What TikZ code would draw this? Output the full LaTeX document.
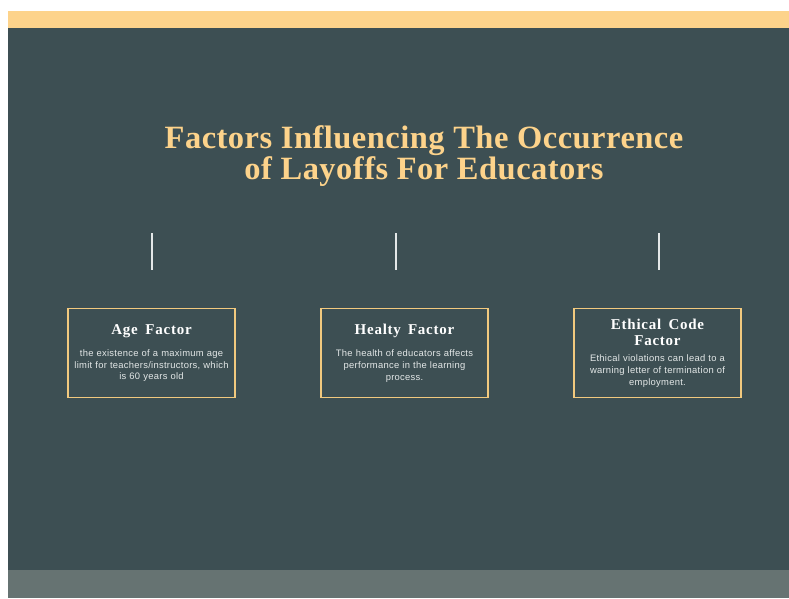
\documentclass[tikz,border=0pt]{standalone}
\usepackage{fontspec}
\setmainfont[LetterSpace=3]{Liberation Sans}
\newfontfamily\headfont[LetterSpace=5]{Liberation Serif}
\newfontfamily\titlefont[LetterSpace=1.5]{Liberation Serif}
\usetikzlibrary{positioning}

\definecolor{slate}{HTML}{3D4F53}
\definecolor{sand}{HTML}{FDD38B}
\definecolor{frame}{HTML}{F2C97E}
\definecolor{stone}{HTML}{667372}
\definecolor{mist}{HTML}{E4E8E8}

\newcommand{\boxhead}[1]{{\headfont\bfseries\fontsize{15}{16}\selectfont\spaceskip=5.5pt plus 1pt\color{white}#1\par}}

\begin{document}
\begin{tikzpicture}[x=1pt, y=-1pt, node distance=253pt]
    \tikzstyle{factor} = [draw=frame, line width=1.6pt, minimum width=167pt, minimum height=89pt,
                          text width=160pt, align=center, inner sep=0pt, font=\fontsize{9.4}{11.6}\selectfont, text=mist]
    \tikzstyle{stem} = [draw=mist, line width=1.5pt]

    \useasboundingbox (0,0) rectangle (789,598);

    % page bands
    \fill[sand] (8,11) rectangle (789,28);
    \fill[slate] (8,28) rectangle (789,570);
    \fill[stone] (8,570) rectangle (789,598);

    \node[font=\titlefont\bfseries\fontsize{32.5}{31.5}\selectfont, text=sand, align=center] (title) at (424,156)
        {Factors Influencing The Occurrence\\of Layoffs For Educators};

    \path
        node[factor] (age) at (151.5,353)
            {\boxhead{Age Factor}\vspace{11pt}
             the existence of a maximum age\\limit for teachers/instructors, which\\is 60 years old}
        node[factor, right of=age] (health)
            {\boxhead{Healty Factor}\vspace{11pt}
             The health of educators affects\\performance in the learning\\process.}
        node[factor, right of=health] (ethic)
            {\boxhead{Ethical Code\\Factor}\vspace{5pt}
             Ethical violations can lead to a\\warning letter of termination of\\employment.};

    % short markers above each box
    \foreach \n/\x in {age/152, health/396, ethic/659} {
        \coordinate (\n top) at (\x,233);
        \coordinate (\n bot) at (\x,270);
        \draw[stem] (\n top) -- (\n bot);
    }
\end{tikzpicture}
\end{document}
